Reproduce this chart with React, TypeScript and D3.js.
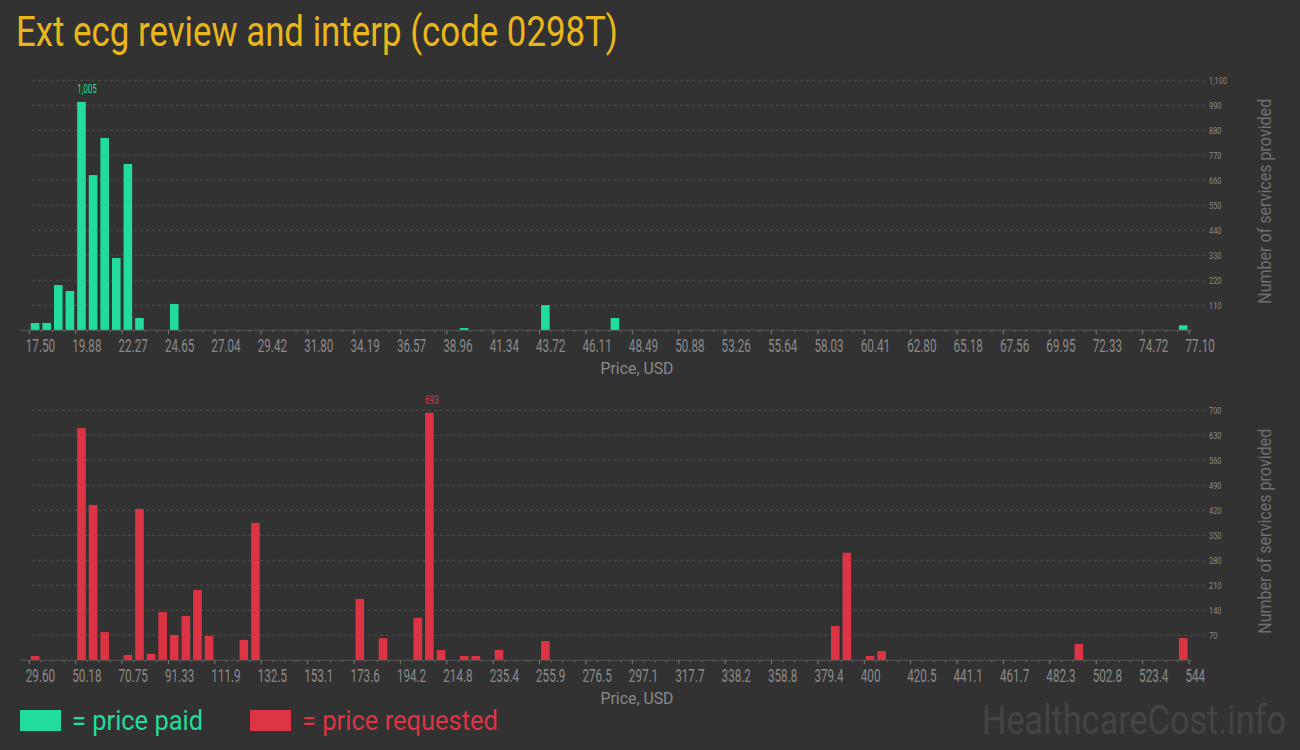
import React from 'react';
import * as d3 from 'd3';

const TITLE = 'Ext ecg review and interp (code 0298T)';

const paidDomain = [17.5, 77.1];
const paidTickLabels = ['17.50', '19.88', '22.27', '24.65', '27.04', '29.42', '31.80', '34.19', '36.57', '38.96', '41.34', '43.72', '46.11', '48.49', '50.88', '53.26', '55.64', '58.03', '60.41', '62.80', '65.18', '67.56', '69.95', '72.33', '74.72', '77.10'];
const paidYTicks = [110, 220, 330, 440, 550, 660, 770, 880, 990, 1100];
const paidBins = [0, 1, 2, 3, 4, 5, 6, 7, 8, 9, 12, 37, 44, 50, 99];
const paidCounts = [32, 32, 199, 173, 1005, 683, 846, 318, 732, 54, 116, 10, 111, 54, 22];

const requestedDomain = [29.6, 544.0];
const requestedTickLabels = ['29.60', '50.18', '70.75', '91.33', '111.9', '132.5', '153.1', '173.6', '194.2', '214.8', '235.4', '255.9', '276.5', '297.1', '317.7', '338.2', '358.8', '379.4', '400', '420.5', '441.1', '461.7', '482.3', '502.8', '523.4', '544'];
const requestedYTicks = [70, 140, 210, 280, 350, 420, 490, 560, 630, 700];
const requestedBins = [0, 4, 5, 6, 8, 9, 10, 11, 12, 13, 14, 15, 18, 19, 28, 30, 33, 34, 35, 37, 38, 40, 44, 69, 70, 72, 73, 90, 99];
const requestedCounts = [12, 650, 435, 79, 15, 424, 18, 135, 71, 124, 197, 68, 57, 385, 172, 62, 119, 693, 29, 12, 12, 29, 54, 96, 301, 12, 26, 46, 62];

const BIN_COUNT = 100;
const GREEN = '#21dc9c';
const RED = '#dc3444';
const FONT = 'Roboto, sans-serif';

type PanelProps = {
  baseY: number;
  domain: number[];
  tickLabels: string[];
  yTicks: number[];
  bins: number[];
  counts: number[];
  color: string;
};

function Panel({ baseY, domain, tickLabels, yTicks, bins, counts, color }: PanelProps) {
  const x = d3.scaleLinear().domain(domain).range([29.3, 1189]);
  const yMax = yTicks[yTicks.length - 1];
  const y = d3.scaleLinear().domain([0, yMax]).range([baseY, baseY - 250]);
  const binW = (domain[1] - domain[0]) / BIN_COUNT;
  const majorStep = (domain[1] - domain[0]) / (tickLabels.length - 1);
  const minorTicks = d3.range(BIN_COUNT + 1).map((i) => domain[0] + i * binW);
  const majorTicks = tickLabels.map((_, i) => domain[0] + i * majorStep);
  const maxIdx = counts.indexOf(Math.max(...counts));
  const fmt = d3.format(',');

  return (
    <g>
      {yTicks.map((t) => (
        <g key={'g' + t}>
          <line x1={32} x2={1206} y1={y(t)} y2={y(t)} stroke="#4d4d4d" strokeDasharray="3,3" strokeWidth={1} />
          <text transform={`translate(1209,${y(t)}) scale(0.78,1)`} dy="0.35em" fontSize={9.5} fill="#8a8a8a" fontFamily={FONT}>
            {fmt(t)}
          </text>
        </g>
      ))}
      {bins.map((b, i) => {
        const x0 = x(domain[0] + b * binW);
        const x1 = x(domain[0] + (b + 1) * binW);
        return (
          <rect key={'b' + i} x={x0 + 1.5} width={x1 - x0 - 3} y={y(counts[i])} height={baseY - y(counts[i])} fill={color} />
        );
      })}
      {(() => {
        const b = bins[maxIdx];
        const x0 = x(domain[0] + b * binW) + 1.5;
        return (
          <text transform={`translate(${x0},${y(counts[maxIdx]) - 9}) scale(0.62,1)`} fontSize={13} fill={color} fontFamily={FONT}>
            {fmt(counts[maxIdx])}
          </text>
        );
      })()}
      <line x1={20} x2={1192} y1={baseY} y2={baseY} stroke="#555" strokeWidth={1} />
      {minorTicks.map((t, i) => (
        <line key={'m' + i} x1={x(t)} x2={x(t)} y1={baseY} y2={baseY + 2} stroke="#666" strokeWidth={1} />
      ))}
      {majorTicks.map((t, i) => (
        <g key={'M' + i}>
          <line x1={x(t)} x2={x(t)} y1={baseY} y2={baseY + 4} stroke="#777" strokeWidth={1} />
          <text transform={`translate(${x(t) - 3.5},${baseY + 21.4}) scale(0.63,1)`} fontSize={18.5} fill="#8a8a8a" fontFamily={FONT}>
            {tickLabels[i]}
          </text>
        </g>
      ))}
      <text x={637} y={baseY + 44} textAnchor="middle" fontSize={17} textLength={73} lengthAdjust="spacingAndGlyphs" fill="#8a8a8a" fontFamily={FONT}>
        Price, USD
      </text>
      <text transform={`translate(1271,${baseY - 129}) rotate(-90)`} textAnchor="middle" fontSize={19} textLength={205} lengthAdjust="spacingAndGlyphs" fill="#6f6f6f" fontFamily={FONT}>
        Number of services provided
      </text>
    </g>
  );
}

export default function App() {
  return (
    <svg width={1300} height={750} style={{ position: 'absolute', left: 0, top: 0, background: '#323232' }}>
      <rect x={0} y={0} width={1300} height={750} fill="#323232" />
      <text x={16} y={46} fontSize={42} textLength={602} lengthAdjust="spacingAndGlyphs" fill="#e9b61c" fontFamily={FONT}>
        {TITLE}
      </text>
      <Panel baseY={330.3} domain={paidDomain} tickLabels={paidTickLabels} yTicks={paidYTicks} bins={paidBins} counts={paidCounts} color={GREEN} />
      <Panel baseY={660.3} domain={requestedDomain} tickLabels={requestedTickLabels} yTicks={requestedYTicks} bins={requestedBins} counts={requestedCounts} color={RED} />
      <rect x={20} y={710} width={41} height={21} fill={GREEN} />
      <text x={72} y={730} fontSize={28} textLength={131} lengthAdjust="spacingAndGlyphs" fill={GREEN} fontFamily={FONT}>
        = price paid
      </text>
      <rect x={250} y={710} width={41} height={21} fill={RED} />
      <text x={302} y={730} fontSize={28} textLength={196} lengthAdjust="spacingAndGlyphs" fill={RED} fontFamily={FONT}>
        = price requested
      </text>
      <text x={982} y={734} fontSize={40} textLength={304} lengthAdjust="spacingAndGlyphs" fill="#444" fontFamily={FONT}>
        HealthcareCost.info
      </text>
    </svg>
  );
}
